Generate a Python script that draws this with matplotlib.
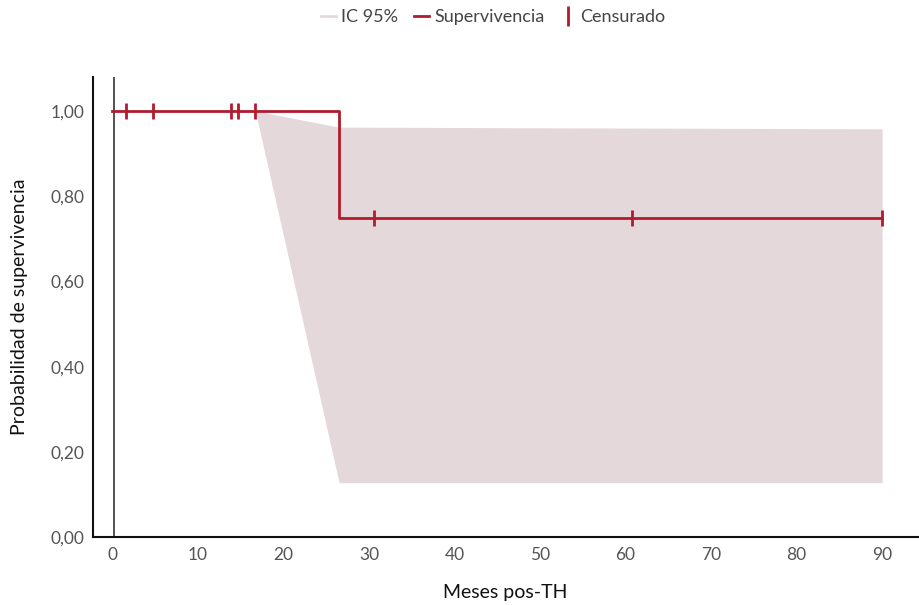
import numpy as np
import matplotlib.pyplot as plt
from matplotlib.lines import Line2D
from matplotlib.ticker import FuncFormatter

plt.rcParams['font.family'] = ['Lato', 'DejaVu Sans']

# Kaplan-Meier step data (meses, supervivencia)
step_t = [0, 26.5, 26.5, 90]
step_s = [1.0, 1.0, 0.75, 0.75]

# censurados
cens_t = [1.6, 4.7, 13.8, 14.7, 16.7, 30.6, 60.8, 90]
cens_s = [1.0, 1.0, 1.0, 1.0, 1.0, 0.75, 0.75, 0.75]

# IC 95%
ci_t = [16.7, 26.5, 90]
ci_low = [1.0, 0.128, 0.128]
ci_up = [1.0, 0.962, 0.958]

red = '#B01C2E'
band = '#E5D8DA'

fig = plt.figure(figsize=(9.19, 6.05), dpi=100)
ax = fig.add_axes([0.101, 0.112, 0.898, 0.761])

ax.fill_between(ci_t, ci_low, ci_up, color=band, lw=0)
ax.axvline(0.2, color='#444444', lw=1.3, zorder=1)
ax.plot(step_t, step_s, color=red, lw=2, zorder=3)
ax.plot(cens_t, cens_s, ls='none', marker='|', color=red, ms=12, mew=2, zorder=4)

ax.set_xlim(-2.3, 94.2)
ax.set_ylim(0, 1.08)
ax.set_xticks(np.arange(0, 91, 10))
ax.set_yticks(np.arange(0, 1.01, 0.2))
ax.yaxis.set_major_formatter(FuncFormatter(lambda v, p: ('%.2f' % v).replace('.', ',')))
ax.tick_params(length=0, labelsize=12.5, colors='#555555', pad=6)
ax.tick_params(axis='x', pad=7)
for s in ['top', 'right']:
    ax.spines[s].set_visible(False)
for s in ['left', 'bottom']:
    ax.spines[s].set_linewidth(1.5)
    ax.spines[s].set_color('#111111')

ax.set_xlabel('Meses pos-TH', fontsize=14, labelpad=15, color='#111111')
ax.set_ylabel('Probabilidad de supervivencia', fontsize=14, labelpad=16, color='#111111')

handles = [
    Line2D([], [], color=band, lw=2),
    Line2D([], [], color=red, lw=2),
    Line2D([], [], ls='none', marker='|', color=red, ms=14, mew=2),
]
fig.legend(handles, ['IC 95%', 'Supervivencia', 'Censurado'], loc='upper center',
           bbox_to_anchor=(0.537, 1.012), ncol=3, frameon=False, fontsize=13,
           handlelength=0.8, handletextpad=0.3, columnspacing=0.9,
           labelcolor='#444444')

fig.savefig('out.png', dpi=100)
